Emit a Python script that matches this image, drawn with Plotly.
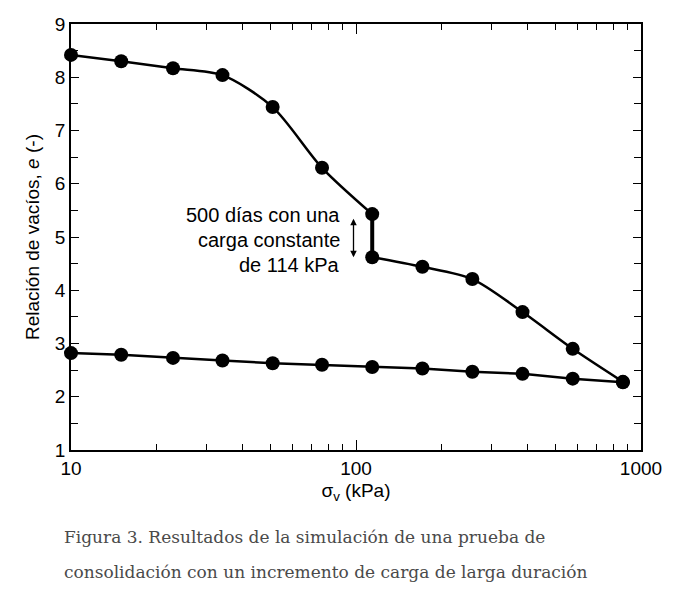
import numpy as np
import plotly.graph_objects as go

# ------------------------------------------------------------------
# Data (log stress in kPa, void ratio e)
# ------------------------------------------------------------------
sigma_load_1 = [10, 15, 22.8, 34, 51, 76, 114]
e_load_1 = [8.42, 8.30, 8.17, 8.04, 7.44, 6.30, 5.43]

sigma_load_2 = [114, 171, 256, 384, 576, 864]
e_load_2 = [4.62, 4.44, 4.21, 3.59, 2.90, 2.28]

sigma_unload = [864, 576, 384, 256, 171, 114, 76, 51, 34, 22.8, 15, 10]
e_unload = [2.27, 2.34, 2.43, 2.47, 2.53, 2.56, 2.60, 2.63, 2.68, 2.73, 2.79, 2.82]

creep_sigma = [114, 114]
creep_e = [5.43, 4.62]

note_lines = ["500 días con una", "carga constante", "de 114 kPa"]
caption_lines = [
    "Figura 3. Resultados de la simulación de una prueba de",
    "consolidación con un incremento de carga de larga duración",
]

FONT = "Liberation Sans, Arial, sans-serif"

fig = go.Figure()

# unloading branch
fig.add_trace(go.Scatter(
    x=sigma_unload, y=e_unload, mode="lines+markers", cliponaxis=False,
    line=dict(color="black", width=2.5),
    marker=dict(size=14, color="black"), showlegend=False
))

# loading branch before the long load step
fig.add_trace(go.Scatter(
    x=sigma_load_1, y=e_load_1, mode="lines+markers", cliponaxis=False,
    line=dict(color="black", width=2.5, shape="spline", smoothing=0.8),
    marker=dict(size=14, color="black"), showlegend=False
))

# 500-day creep at constant load
fig.add_trace(go.Scatter(
    x=creep_sigma, y=creep_e, mode="lines",
    line=dict(color="black", width=4), showlegend=False
))

# loading branch after the long load step
fig.add_trace(go.Scatter(
    x=sigma_load_2, y=e_load_2, mode="lines+markers", cliponaxis=False,
    line=dict(color="black", width=2.5, shape="spline", smoothing=0.8),
    marker=dict(size=14, color="black"), showlegend=False
))

# note text, right aligned
for txt, yv in zip(note_lines, [5.41, 4.94, 4.47]):
    fig.add_annotation(
        x=np.log10(89), y=yv, xref="x", yref="y", text=txt,
        showarrow=False, xanchor="right", yanchor="middle",
        font=dict(family=FONT, size=20, color="black")
    )

# double-headed arrow
fig.add_annotation(
    x=np.log10(98), y=4.62, ax=np.log10(98), ay=5.37,
    xref="x", yref="y", axref="x", ayref="y", text="",
    showarrow=True, arrowhead=2, arrowside="end+start",
    arrowsize=1, arrowwidth=1.3, arrowcolor="black"
)

# caption below the chart
for txt, yv in zip(caption_lines, [-0.204, -0.287]):
    fig.add_annotation(
        x=-0.015, y=yv, xref="paper", yref="paper", text=txt,
        showarrow=False, xanchor="left", yanchor="middle",
        font=dict(family="DejaVu Serif, serif", size=17, color="#4a4a4a")
    )

minor_x = [m * 10 ** k for k in (1, 2) for m in range(2, 10)]

fig.update_layout(
    width=679, height=595,
    margin=dict(l=63, r=46, t=16, b=153),
    plot_bgcolor="white", paper_bgcolor="white",
    font=dict(family=FONT, size=19, color="black"),
    xaxis=dict(
        type="log", range=[1, 3], automargin=False,
        tickvals=[10, 100, 1000], ticktext=["10", "100", "1000"],
        ticks="inside", ticklen=10, tickwidth=1.3, tickcolor="black",
        minor=dict(tickvals=minor_x, ticks="inside", ticklen=6, tickwidth=1.2, tickcolor="black"),
        showline=True, linecolor="black", linewidth=1.5, mirror="allticks",
        showgrid=False, zeroline=False,
        title=dict(text="σ<sub>v</sub> (kPa)", font=dict(size=19), standoff=6),
        tickfont=dict(size=19)
    ),
    yaxis=dict(
        range=[1, 9], dtick=1, automargin=False,
        ticks="inside", ticklen=8, tickwidth=1.3, tickcolor="black",
        minor=dict(dtick=0.5, ticks="inside", ticklen=7, tickwidth=1.2, tickcolor="black"),
        showline=True, linecolor="black", linewidth=1.5, mirror="allticks",
        showgrid=False, zeroline=False,
        title=dict(text="Relación de vacíos, <i>e</i> (-)", font=dict(size=19), standoff=10),
        tickfont=dict(size=19)
    ),
)

fig.write_html("out.html")
